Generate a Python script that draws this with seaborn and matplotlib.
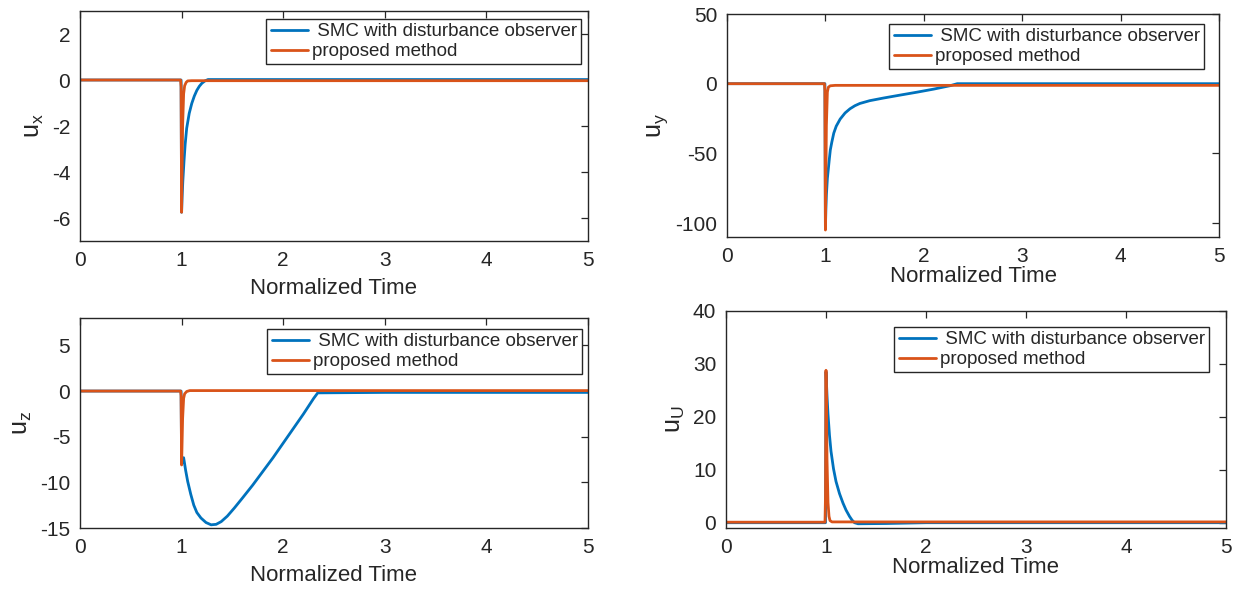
import numpy as np
import pandas as pd
import matplotlib
matplotlib.use("Agg")
import matplotlib.pyplot as plt
import seaborn as sns

# ---- data: control inputs vs normalized time ----
ux_smc_t = [0, 0.995, 1.0, 1.005, 1.012, 1.024, 1.035, 1.05, 1.075, 1.1, 1.125, 1.15, 1.175,
            1.2, 1.23, 1.26, 2, 3, 4, 5]
ux_smc = [0, 0, -5.75, -5.1, -4.4, -3.5, -2.8, -2.1, -1.45, -1.02, -0.7, -0.45, -0.27,
          -0.14, -0.04, 0.02, 0.02, 0.02, 0.02, 0.02]
ux_prop_t = [0, 0.99, 0.995, 1.0, 1.01, 1.02, 1.03, 1.045, 1.06, 1.1, 5]
ux_prop = [0, 0, -0.3, -5.75, -2.0, -0.6, -0.25, -0.1, -0.04, -0.03, -0.03]

uy_smc_t = [0, 0.995, 1.0, 1.005, 1.01, 1.02, 1.03, 1.04, 1.05, 1.065, 1.085, 1.11, 1.15, 1.2,
            1.25, 1.3, 1.35, 1.45, 1.59, 1.75, 1.93, 2.1, 2.27, 2.34, 3, 4, 5]
uy_smc = [0, 0, -104, -90, -80, -68, -61, -54, -47.5, -42, -35.5, -30.5, -25.4, -21,
          -18, -15.8, -14.2, -12.2, -10.3, -8.3, -6.1, -3.9, -1.4, 0, 0, 0, 0]
uy_prop_t = [0, 0.99, 0.995, 1.0, 1.01, 1.02, 1.03, 1.05, 1.1, 5]
uy_prop = [0, 0, -5, -105, -30, -6, -2.5, -1.5, -1.2, -1.2]

uz_smc_t = [0, 0.995, 1.0, 1.01, 1.02, 1.04, 1.06, 1.09, 1.12, 1.15, 1.19, 1.24, 1.29, 1.34,
            1.39, 1.45, 1.52, 1.6, 1.7, 1.8, 1.9, 2.0, 2.1, 2.2, 2.3, 2.34, 3, 4, 5]
uz_smc = [0, 0, -8.0, -7.6, -7.3, -8.7, -9.9, -11.3, -12.5, -13.3, -13.9, -14.4, -14.65, -14.6,
          -14.3, -13.7, -12.8, -11.7, -10.3, -8.8, -7.3, -5.7, -4.1, -2.5, -0.8, -0.2,
          -0.15, -0.15, -0.15]
uz_prop_t = [0, 0.99, 0.995, 1.0, 1.01, 1.02, 1.03, 1.05, 1.08, 5]
uz_prop = [0, 0, -0.5, -8.1, -3.0, -0.8, -0.3, -0.05, 0.05, 0.05]

uU_smc_t = [0, 0.995, 1.0, 1.01, 1.02, 1.035, 1.05, 1.075, 1.1, 1.135, 1.17, 1.2, 1.235,
            1.26, 1.285, 1.32, 1.6, 2, 3, 4, 5]
uU_smc = [0, 0, 28.5, 24, 20.5, 16.5, 13.5, 10.2, 7.8, 5.5, 3.7, 2.4, 1.2,
          0.5, 0.0, -0.2, -0.15, 0.0, 0.0, 0.0, 0.0]
uU_prop_t = [0, 0.99, 0.995, 1.0, 1.01, 1.02, 1.03, 1.04, 1.06, 5]
uU_prop = [0.1, 0.1, 5, 28.8, 12, 3.8, 1.2, 0.4, 0.15, 0.15]

series_labels = [" SMC with disturbance observer", "proposed method"]
y_labels = [r"u$_{\mathregular{x}}$", r"u$_{\mathregular{y}}$",
            r"u$_{\mathregular{z}}$", r"u$_{\mathregular{U}}$"]
x_label = "Normalized Time"
x_ticks = [0, 1, 2, 3, 4, 5]
y_limits = [(-7, 3), (-110, 50), (-15, 8), (-1, 40)]
y_ticks = [[-6, -4, -2, 0, 2], [-100, -50, 0, 50], [-15, -10, -5, 0, 5], [0, 10, 20, 30, 40]]

# ---- style ----
sns.set_theme(style="white")
INK = "#262626"
plt.rcParams.update({
    "font.family": ["Liberation Sans", "DejaVu Sans"],
    "mathtext.fontset": "custom",
    "mathtext.rm": "Liberation Sans",
    "axes.unicode_minus": False,
    "axes.edgecolor": INK,
    "axes.linewidth": 1.0,
    "xtick.color": INK,
    "ytick.color": INK,
    "axes.labelcolor": INK,
})
BLUE = "#0072BD"
ORANGE = "#D95319"

W, H = 1240, 589
fig = plt.figure(figsize=(W / 100, H / 100), dpi=100)

# axes boxes in pixels: left, top, right, bottom
boxes = [(80, 11, 588, 241), (727, 14, 1219, 237), (80, 318, 588, 528), (726, 311, 1226, 528)]
# legend upper-right corners in pixels
legend_corners = [(581, 19), (1204, 24), (582, 329), (1209, 327)]
xlabel_pads = [6, 0, 6, 0]

panels = [
    (ux_smc_t, ux_smc, ux_prop_t, ux_prop),
    (uy_smc_t, uy_smc, uy_prop_t, uy_prop),
    (uz_smc_t, uz_smc, uz_prop_t, uz_prop),
    (uU_smc_t, uU_smc, uU_prop_t, uU_prop),
]

for i, (ts, vs, tp, vp) in enumerate(panels):
    l, t, r, b = boxes[i]
    ax = fig.add_axes([l / W, 1 - b / H, (r - l) / W, (b - t) / H])
    sns.lineplot(x=ts, y=vs, ax=ax, color=BLUE, lw=2.0, label=series_labels[0],
                 estimator=None, sort=False)
    sns.lineplot(x=tp, y=vp, ax=ax, color=ORANGE, lw=2.0, label=series_labels[1],
                 estimator=None, sort=False)
    ax.set_xlim(0, 5)
    ax.set_ylim(*y_limits[i])
    ax.set_xticks(x_ticks)
    ax.set_yticks(y_ticks[i])
    ax.tick_params(direction="in", top=True, right=True, length=5, width=0.9,
                   labelsize=15, pad=7)
    for s in ax.spines.values():
        s.set_visible(True)
        s.set_color(INK)
    ax.set_xlabel(x_label, fontsize=16, labelpad=xlabel_pads[i])
    ax.set_ylabel(y_labels[i], fontsize=18, labelpad=4)
    cx, cy = legend_corners[i]
    leg = ax.legend(loc="upper right", bbox_to_anchor=(cx / W, 1 - cy / H),
                    bbox_transform=fig.transFigure, borderaxespad=0,
                    fontsize=13.5, frameon=True, fancybox=False, framealpha=1,
                    edgecolor=INK, handlelength=2.0, handletextpad=0.2,
                    labelspacing=0.15, borderpad=0.22)
    leg.get_frame().set_linewidth(1.0)

fig.savefig("out.png", dpi=100)
